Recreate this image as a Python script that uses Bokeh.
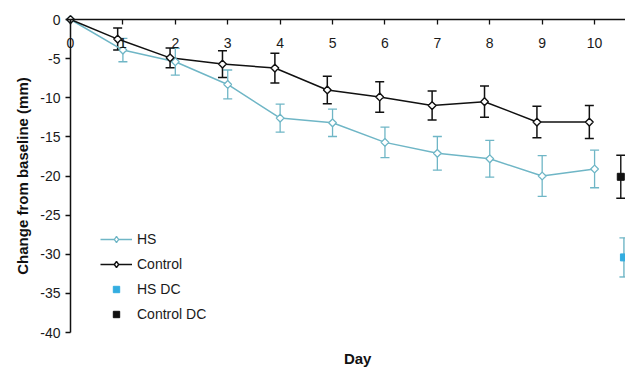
import math
from bokeh.plotting import figure
from bokeh.models import (LinearAxis, FixedTicker, Range1d, Whisker, TeeHead,
                          ColumnDataSource, Legend, LegendItem, Label)
from bokeh.embed import file_html
from bokeh.resources import INLINE

# ---------------- data ----------------
days = [0, 1, 2, 3, 4, 5, 6, 7, 8, 9, 10]
hs_mean = [0.0, -3.9, -5.4, -8.3, -12.6, -13.2, -15.7, -17.1, -17.8, -20.0, -19.1]
hs_err = [0.0, 1.5, 1.7, 1.85, 1.8, 1.75, 1.95, 2.15, 2.35, 2.6, 2.4]
ctrl_mean = [0.0, -2.5, -4.9, -5.7, -6.2, -9.0, -9.9, -11.0, -10.5, -13.1, -13.1]
ctrl_err = [0.0, 1.4, 1.25, 1.7, 1.9, 1.75, 1.95, 1.85, 2.0, 2.0, 2.1]
ctrl_shift = -0.1  # control series is drawn slightly left of each day

dc_names = ["HS DC", "Control DC"]
dc_day = [10.56, 10.5]
dc_mean = [-30.4, -20.1]
dc_err = [2.5, 2.75]

x_ticks = days
y_ticks = [0, -5, -10, -15, -20, -25, -30, -35, -40]
y_tick_labels = ["0", "-5", "-10", "-15", "-20", "-25", "-30", "-35", "-40"]

# ---------------- styling ----------------
HS_COLOR = "#6fb6c6"
HS_DC_COLOR = "#33ade0"
CTRL_COLOR = "#111111"
FONT = "Liberation Sans"

p = figure(width=625, height=367,
           x_range=Range1d(-1.3356, 10.59), y_range=Range1d(-44.47, 2.43),
           output_backend="svg", toolbar_location=None,
           x_axis_location=None, y_axis_location=None,
           min_border_left=0, min_border_right=0,
           min_border_top=0, min_border_bottom=0)
p.outline_line_color = None
p.background_fill_color = "white"
p.border_fill_color = "white"
for g in p.grid:
    g.visible = False

# axes through the origin
xax = LinearAxis(fixed_location=0, ticker=FixedTicker(ticks=x_ticks),
                 bounds=(0, 10.7))
xax.axis_line_color = "#111111"
xax.axis_line_width = 1.5
xax.major_tick_line_color = "#111111"
xax.major_tick_line_width = 1.3
xax.major_tick_out = 5
xax.major_tick_in = 0
xax.minor_tick_line_color = None
xax.major_label_standoff = 13
xax.major_label_text_font = FONT
xax.major_label_text_font_size = "14px"
xax.major_label_text_color = "#1a1a1a"
p.add_layout(xax, "below")

yax = LinearAxis(fixed_location=0, ticker=FixedTicker(ticks=y_ticks),
                 bounds=(-40, 0))
yax.major_label_overrides = {t: s for t, s in zip(y_ticks, y_tick_labels)}
yax.axis_line_color = "#111111"
yax.axis_line_width = 1.5
yax.major_tick_line_color = "#111111"
yax.major_tick_line_width = 1.3
yax.major_tick_out = 5
yax.major_tick_in = 0
yax.minor_tick_line_color = None
yax.major_label_standoff = 5
yax.major_label_text_font = FONT
yax.major_label_text_font_size = "14px"
yax.major_label_text_color = "#1a1a1a"
yax.axis_label = "Change from baseline (mm)"
yax.axis_label_text_font = FONT
yax.axis_label_text_font_size = "15px"
yax.axis_label_text_font_style = "bold"
yax.axis_label_text_color = "#111111"
yax.axis_label_standoff = 6
p.add_layout(yax, "left")

# ---------------- series ----------------
ctrl_x = [d + ctrl_shift if d > 0 else d for d in days]

hs_src = ColumnDataSource(dict(
    x=days[1:],
    lo=[m - e for m, e in zip(hs_mean[1:], hs_err[1:])],
    hi=[m + e for m, e in zip(hs_mean[1:], hs_err[1:])]))
ctrl_src = ColumnDataSource(dict(
    x=ctrl_x[1:],
    lo=[m - e for m, e in zip(ctrl_mean[1:], ctrl_err[1:])],
    hi=[m + e for m, e in zip(ctrl_mean[1:], ctrl_err[1:])]))

p.add_layout(Whisker(source=hs_src, base="x", lower="lo", upper="hi",
                     line_color=HS_COLOR, line_width=1.3,
                     lower_head=TeeHead(size=9, line_color=HS_COLOR, line_width=1.3),
                     upper_head=TeeHead(size=9, line_color=HS_COLOR, line_width=1.3)))
p.add_layout(Whisker(source=ctrl_src, base="x", lower="lo", upper="hi",
                     line_color=CTRL_COLOR, line_width=1.5,
                     lower_head=TeeHead(size=9, line_color=CTRL_COLOR, line_width=1.5),
                     upper_head=TeeHead(size=9, line_color=CTRL_COLOR, line_width=1.5)))

hs_line = p.line(days, hs_mean, line_color=HS_COLOR, line_width=1.5)
ctrl_line = p.line(ctrl_x, ctrl_mean, line_color=CTRL_COLOR, line_width=1.5)
hs_pts = p.scatter(days, hs_mean, marker="square", angle=math.pi / 4, size=5.5,
                   fill_color="white", line_color=HS_COLOR, line_width=1.3)
ctrl_pts = p.scatter(ctrl_x, ctrl_mean, marker="square", angle=math.pi / 4, size=5.5,
                     fill_color="white", line_color=CTRL_COLOR, line_width=1.4)

# legend-only diamond glyphs (legend markers are never rotated)
nan = float("nan")
hs_key = p.scatter([nan], [nan], marker="diamond", fill_color="white",
                   line_color=HS_COLOR, line_width=1.3)
ctrl_key = p.scatter([nan], [nan], marker="diamond", fill_color="white",
                     line_color=CTRL_COLOR, line_width=1.4)

# discontinuation points
dc_colors = [HS_DC_COLOR, CTRL_COLOR]
dc_bar_colors = [HS_COLOR, CTRL_COLOR]
dc_renderers = []
for i in range(len(dc_names)):
    src = ColumnDataSource(dict(x=[dc_day[i]], lo=[dc_mean[i] - dc_err[i]],
                                hi=[dc_mean[i] + dc_err[i]]))
    c = dc_bar_colors[i]
    p.add_layout(Whisker(source=src, base="x", lower="lo", upper="hi",
                         line_color=c, line_width=1.4,
                         lower_head=TeeHead(size=9, line_color=c, line_width=1.4),
                         upper_head=TeeHead(size=9, line_color=c, line_width=1.4)))
    r = p.scatter([dc_day[i]], [dc_mean[i]], marker="square", size=7,
                  fill_color=dc_colors[i], line_color=dc_colors[i])
    dc_renderers.append(r)

legend = Legend(items=[
    LegendItem(label="HS", renderers=[hs_line, hs_key]),
    LegendItem(label="Control", renderers=[ctrl_line, ctrl_key]),
    LegendItem(label=dc_names[0], renderers=[dc_renderers[0]]),
    LegendItem(label=dc_names[1], renderers=[dc_renderers[1]]),
], location=(100, 43))
legend.glyph_width = 32
legend.glyph_height = 16
legend.label_height = 20
legend.spacing = 5
legend.padding = 0
legend.margin = 0
legend.label_standoff = 5
legend.label_text_font = FONT
legend.label_text_font_size = "14px"
legend.label_text_color = "#1a1a1a"
legend.background_fill_alpha = 0
legend.border_line_color = None
p.add_layout(legend)

p.add_layout(Label(x=5.48, y=-43.3, text="Day", text_align="center",
                   text_baseline="middle", text_font=FONT,
                   text_font_size="15px", text_font_style="bold",
                   text_color="#111111"))

open("out.html", "w").write(file_html(p, INLINE))
